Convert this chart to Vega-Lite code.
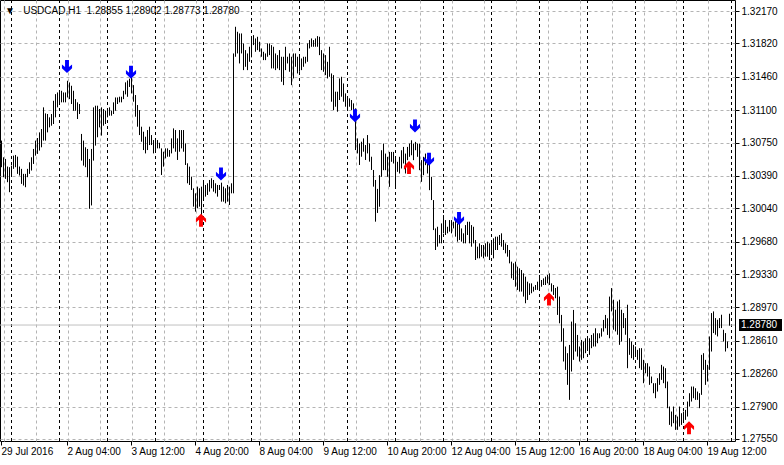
{
  "$schema": "https://vega.github.io/schema/vega-lite/v6.json",
  "width": 735,
  "height": 441,
  "autosize": {"type": "none"},
  "padding": {"left": 0, "top": 0, "right": 49, "bottom": 24},
  "background": "white",
  "config": {
    "view": {"stroke": "black", "strokeWidth": 1},
    "axis": {"labelFont": "Liberation Sans", "labelFontSize": 10, "labelColor": "black"}
  },
  "title": {
    "text": "▼\u00a0\u00a0\u00a0USDCAD,H1\u00a0\u00a01.28855 1.28902 1.28773 1.28780",
    "anchor": "start",
    "frame": "group",
    "orient": "top",
    "offset": -16,
    "font": "Liberation Sans",
    "fontSize": 10,
    "fontWeight": "normal",
    "color": "black",
    "dx": 5
  },
  "datasets": {
    "days": [{"v":5},{"v":29},{"v":53},{"v":77},{"v":101},{"v":125},{"v":149},{"v":173},{"v":197},{"v":221},{"v":245},{"v":269},{"v":293},{"v":317},{"v":341},{"v":365}],
    "bid": [{"price": 1.2878, "label": "1.28780"}],
    "fractals": [
      {"i":33,"p":1.3157,"dir":"down"},{"i":65,"p":1.3151,"dir":"down"},{"i":110,"p":1.3041,"dir":"down"},
      {"i":177,"p":1.3104,"dir":"down"},{"i":207,"p":1.3093,"dir":"down"},{"i":214,"p":1.3057,"dir":"down"},
      {"i":229,"p":1.2993,"dir":"down"},{"i":100,"p":1.2991,"dir":"up"},{"i":204,"p":1.3048,"dir":"up"},
      {"i":274,"p":1.2906,"dir":"up"},{"i":344,"p":1.2767,"dir":"up"}
    ],
    "bars": [
{"i":0,"h":1.30771,"l":1.30484},{"i":1,"h":1.30591,"l":1.30376},{"i":2,"h":1.30573,"l":1.30358},{"i":3,"h":1.30491,"l":1.30322},{"i":4,"h":1.30484,"l":1.30214},
{"i":5,"h":1.30501,"l":1.30394},{"i":6,"h":1.30609,"l":1.30466},{"i":7,"h":1.30616,"l":1.30484},{"i":8,"h":1.30598,"l":1.30412},{"i":9,"h":1.30491,"l":1.30394},
{"i":10,"h":1.30466,"l":1.30304},{"i":11,"h":1.30412,"l":1.30286},{"i":12,"h":1.30412,"l":1.30268},{"i":13,"h":1.30466,"l":1.30376},{"i":14,"h":1.30537,"l":1.30412},
{"i":15,"h":1.30591,"l":1.30448},{"i":16,"h":1.30681,"l":1.30519},{"i":17,"h":1.30771,"l":1.30609},{"i":18,"h":1.30799,"l":1.30627},{"i":19,"h":1.30860,"l":1.30663},
{"i":20,"h":1.30896,"l":1.30699},{"i":21,"h":1.31130,"l":1.30771},{"i":22,"h":1.31065,"l":1.30771},{"i":23,"h":1.31058,"l":1.30860},{"i":24,"h":1.31022,"l":1.30914},
{"i":25,"h":1.31058,"l":1.30932},{"i":26,"h":1.31201,"l":1.30950},{"i":27,"h":1.31273,"l":1.31022},{"i":28,"h":1.31291,"l":1.31130},{"i":29,"h":1.31291,"l":1.31166},
{"i":30,"h":1.31309,"l":1.31184},{"i":31,"h":1.31291,"l":1.31184},{"i":32,"h":1.31291,"l":1.31184},{"i":33,"h":1.31417,"l":1.31237},{"i":34,"h":1.31399,"l":1.31219},
{"i":35,"h":1.31363,"l":1.31166},{"i":36,"h":1.31309,"l":1.31094},{"i":37,"h":1.31219,"l":1.31094},{"i":38,"h":1.31184,"l":1.31004},{"i":39,"h":1.31166,"l":1.31058},
{"i":40,"h":1.30843,"l":1.30555},{"i":41,"h":1.30771,"l":1.30501},{"i":42,"h":1.30699,"l":1.30484},{"i":43,"h":1.30681,"l":1.30376},{"i":44,"h":1.30573,"l":1.30035},
{"i":45,"h":1.30681,"l":1.30071},{"i":46,"h":1.31130,"l":1.30555},{"i":47,"h":1.31148,"l":1.30717},{"i":48,"h":1.31148,"l":1.30807},{"i":49,"h":1.31112,"l":1.30914},
{"i":50,"h":1.31130,"l":1.30825},{"i":51,"h":1.31112,"l":1.30932},{"i":52,"h":1.31094,"l":1.30950},{"i":53,"h":1.31094,"l":1.31022},{"i":54,"h":1.31130,"l":1.31040},
{"i":55,"h":1.31094,"l":1.31040},{"i":56,"h":1.31184,"l":1.31058},{"i":57,"h":1.31237,"l":1.31094},{"i":58,"h":1.31237,"l":1.31166},{"i":59,"h":1.31245,"l":1.31184},
{"i":60,"h":1.31245,"l":1.31184},{"i":61,"h":1.31309,"l":1.31219},{"i":62,"h":1.31400,"l":1.31270},{"i":63,"h":1.31420,"l":1.31244},{"i":64,"h":1.31440,"l":1.31350},
{"i":65,"h":1.31460,"l":1.31280},{"i":66,"h":1.31370,"l":1.31191},{"i":67,"h":1.31263,"l":1.31029},{"i":68,"h":1.31155,"l":1.30921},{"i":69,"h":1.31100,"l":1.30831},
{"i":70,"h":1.30921,"l":1.30759},{"i":71,"h":1.30867,"l":1.30669},{"i":72,"h":1.30813,"l":1.30633},{"i":73,"h":1.30885,"l":1.30669},{"i":74,"h":1.30921,"l":1.30723},
{"i":75,"h":1.30831,"l":1.30723},{"i":76,"h":1.30777,"l":1.30633},{"i":77,"h":1.30777,"l":1.30669},{"i":78,"h":1.30777,"l":1.30687},{"i":79,"h":1.30748,"l":1.30687},
{"i":80,"h":1.30687,"l":1.30400},{"i":81,"h":1.30651,"l":1.30490},{"i":82,"h":1.30687,"l":1.30579},{"i":83,"h":1.30687,"l":1.30597},{"i":84,"h":1.30669,"l":1.30597},
{"i":85,"h":1.30795,"l":1.30633},{"i":86,"h":1.30903,"l":1.30687},{"i":87,"h":1.30885,"l":1.30651},{"i":88,"h":1.30795,"l":1.30562},{"i":89,"h":1.30885,"l":1.30651},
{"i":90,"h":1.30885,"l":1.30687},{"i":91,"h":1.30885,"l":1.30651},{"i":92,"h":1.30741,"l":1.30508},{"i":93,"h":1.30526,"l":1.30310},{"i":94,"h":1.30490,"l":1.30292},
{"i":95,"h":1.30382,"l":1.30238},{"i":96,"h":1.30256,"l":1.30058},{"i":97,"h":1.30202,"l":1.30004},{"i":98,"h":1.30274,"l":1.30040},{"i":99,"h":1.30256,"l":1.30058},
{"i":100,"h":1.30274,"l":1.29968},{"i":101,"h":1.30328,"l":1.30130},{"i":102,"h":1.30292,"l":1.30166},{"i":103,"h":1.30310,"l":1.30184},{"i":104,"h":1.30346,"l":1.30220},
{"i":105,"h":1.30364,"l":1.30256},{"i":106,"h":1.30346,"l":1.30220},{"i":107,"h":1.30310,"l":1.30202},{"i":108,"h":1.30292,"l":1.30166},{"i":109,"h":1.30292,"l":1.30238},
{"i":110,"h":1.30317,"l":1.30112},{"i":111,"h":1.30274,"l":1.30112},{"i":112,"h":1.30256,"l":1.30094},{"i":113,"h":1.30292,"l":1.30112},{"i":114,"h":1.30274,"l":1.30076},
{"i":115,"h":1.30310,"l":1.30202},{"i":116,"h":1.31712,"l":1.30202},{"i":117,"h":1.32000,"l":1.31676},{"i":118,"h":1.31946,"l":1.31712},{"i":119,"h":1.31928,"l":1.31604},
{"i":120,"h":1.31928,"l":1.31712},{"i":121,"h":1.31820,"l":1.31532},{"i":122,"h":1.31748,"l":1.31568},{"i":123,"h":1.31712,"l":1.31532},{"i":124,"h":1.31784,"l":1.31622},
{"i":125,"h":1.31880,"l":1.31670},{"i":126,"h":1.31910,"l":1.31802},{"i":127,"h":1.31874,"l":1.31730},{"i":128,"h":1.31892,"l":1.31748},{"i":129,"h":1.31838,"l":1.31730},
{"i":130,"h":1.31766,"l":1.31676},{"i":131,"h":1.31730,"l":1.31640},{"i":132,"h":1.31712,"l":1.31640},{"i":133,"h":1.31820,"l":1.31676},{"i":134,"h":1.31820,"l":1.31694},
{"i":135,"h":1.31802,"l":1.31550},{"i":136,"h":1.31784,"l":1.31550},{"i":137,"h":1.31712,"l":1.31532},{"i":138,"h":1.31694,"l":1.31550},{"i":139,"h":1.31748,"l":1.31532},
{"i":140,"h":1.31676,"l":1.31406},{"i":141,"h":1.31676,"l":1.31370},{"i":142,"h":1.31784,"l":1.31532},{"i":143,"h":1.31676,"l":1.31604},{"i":144,"h":1.31712,"l":1.31514},
{"i":145,"h":1.31676,"l":1.31370},{"i":146,"h":1.31712,"l":1.31442},{"i":147,"h":1.31712,"l":1.31568},{"i":148,"h":1.31676,"l":1.31496},{"i":149,"h":1.31694,"l":1.31514},
{"i":150,"h":1.31658,"l":1.31532},{"i":151,"h":1.31676,"l":1.31568},{"i":152,"h":1.31676,"l":1.31604},{"i":153,"h":1.31820,"l":1.31622},{"i":154,"h":1.31856,"l":1.31766},
{"i":155,"h":1.31874,"l":1.31784},{"i":156,"h":1.31856,"l":1.31784},{"i":157,"h":1.31874,"l":1.31784},{"i":158,"h":1.31899,"l":1.31784},{"i":159,"h":1.31892,"l":1.31694},
{"i":160,"h":1.31748,"l":1.31532},{"i":161,"h":1.31712,"l":1.31514},{"i":162,"h":1.31694,"l":1.31478},{"i":163,"h":1.31622,"l":1.31442},{"i":164,"h":1.31784,"l":1.31460},
{"i":165,"h":1.31496,"l":1.31191},{"i":166,"h":1.31478,"l":1.31100},{"i":167,"h":1.31299,"l":1.31137},{"i":168,"h":1.31299,"l":1.31083},{"i":169,"h":1.31442,"l":1.31209},
{"i":170,"h":1.31460,"l":1.31245},{"i":171,"h":1.31388,"l":1.31191},{"i":172,"h":1.31281,"l":1.31137},{"i":173,"h":1.31245,"l":1.31119},{"i":174,"h":1.31227,"l":1.31137},
{"i":175,"h":1.31209,"l":1.31100},{"i":176,"h":1.31173,"l":1.31083},{"i":177,"h":1.31119,"l":1.30669},{"i":178,"h":1.30795,"l":1.30633},{"i":179,"h":1.30741,"l":1.30508},
{"i":180,"h":1.30759,"l":1.30597},{"i":181,"h":1.30795,"l":1.30651},{"i":182,"h":1.30723,"l":1.30562},{"i":183,"h":1.30831,"l":1.30633},{"i":184,"h":1.30741,"l":1.30544},
{"i":185,"h":1.30597,"l":1.30454},{"i":186,"h":1.30454,"l":1.30274},{"i":187,"h":1.30346,"l":1.29896},{"i":188,"h":1.30250,"l":1.29990},{"i":189,"h":1.30398,"l":1.30057},
{"i":190,"h":1.30667,"l":1.30380},{"i":191,"h":1.30739,"l":1.30452},{"i":192,"h":1.30631,"l":1.30452},{"i":193,"h":1.30596,"l":1.30380},{"i":194,"h":1.30649,"l":1.30272},
{"i":195,"h":1.30649,"l":1.30542},{"i":196,"h":1.30649,"l":1.30524},{"i":197,"h":1.30578,"l":1.30272},{"i":198,"h":1.30542,"l":1.30434},{"i":199,"h":1.30596,"l":1.30416},
{"i":200,"h":1.30667,"l":1.30470},{"i":201,"h":1.30703,"l":1.30524},{"i":202,"h":1.30631,"l":1.30416},{"i":203,"h":1.30703,"l":1.30560},{"i":204,"h":1.30739,"l":1.30596},
{"i":205,"h":1.30775,"l":1.30613},{"i":206,"h":1.30739,"l":1.30560},{"i":207,"h":1.30757,"l":1.30667},{"i":208,"h":1.30739,"l":1.30596},{"i":209,"h":1.30739,"l":1.30452},
{"i":210,"h":1.30560,"l":1.30326},{"i":211,"h":1.30596,"l":1.30398},{"i":212,"h":1.30631,"l":1.30506},{"i":213,"h":1.30596,"l":1.30416},{"i":214,"h":1.30524,"l":1.30236},
{"i":215,"h":1.30380,"l":1.30129},{"i":216,"h":1.30129,"l":1.29805},{"i":217,"h":1.29823,"l":1.29590},{"i":218,"h":1.29841,"l":1.29626},{"i":219,"h":1.29752,"l":1.29662},
{"i":220,"h":1.29877,"l":1.29662},{"i":221,"h":1.29967,"l":1.29770},{"i":222,"h":1.29913,"l":1.29752},{"i":223,"h":1.29841,"l":1.29770},{"i":224,"h":1.29913,"l":1.29788},
{"i":225,"h":1.29913,"l":1.29770},{"i":226,"h":1.29895,"l":1.29823},{"i":227,"h":1.29931,"l":1.29734},{"i":228,"h":1.29877,"l":1.29680},{"i":229,"h":1.29877,"l":1.29698},
{"i":230,"h":1.29823,"l":1.29680},{"i":231,"h":1.29770,"l":1.29662},{"i":232,"h":1.29859,"l":1.29662},{"i":233,"h":1.29895,"l":1.29752},{"i":234,"h":1.29895,"l":1.29662},
{"i":235,"h":1.29859,"l":1.29626},{"i":236,"h":1.29841,"l":1.29662},{"i":237,"h":1.29698,"l":1.29482},{"i":238,"h":1.29626,"l":1.29500},{"i":239,"h":1.29662,"l":1.29500},
{"i":240,"h":1.29644,"l":1.29518},{"i":241,"h":1.29644,"l":1.29500},{"i":242,"h":1.29662,"l":1.29518},{"i":243,"h":1.29680,"l":1.29518},{"i":244,"h":1.29662,"l":1.29482},
{"i":245,"h":1.29680,"l":1.29554},{"i":246,"h":1.29716,"l":1.29500},{"i":247,"h":1.29734,"l":1.29590},{"i":248,"h":1.29734,"l":1.29590},{"i":249,"h":1.29752,"l":1.29644},
{"i":250,"h":1.29770,"l":1.29626},{"i":251,"h":1.29698,"l":1.29590},{"i":252,"h":1.29662,"l":1.29554},{"i":253,"h":1.29644,"l":1.29518},{"i":254,"h":1.29590,"l":1.29446},
{"i":255,"h":1.29464,"l":1.29284},{"i":256,"h":1.29446,"l":1.29266},{"i":257,"h":1.29464,"l":1.29194},{"i":258,"h":1.29410,"l":1.29159},{"i":259,"h":1.29392,"l":1.29141},
{"i":260,"h":1.29374,"l":1.29141},{"i":261,"h":1.29338,"l":1.29087},{"i":262,"h":1.29302,"l":1.29015},{"i":263,"h":1.29248,"l":1.29051},{"i":264,"h":1.29230,"l":1.29105},
{"i":265,"h":1.29230,"l":1.29123},{"i":266,"h":1.29194,"l":1.29141},{"i":267,"h":1.29212,"l":1.29159},{"i":268,"h":1.29248,"l":1.29159},{"i":269,"h":1.29320,"l":1.29180},
{"i":270,"h":1.29266,"l":1.29194},{"i":271,"h":1.29284,"l":1.29212},{"i":272,"h":1.29302,"l":1.29212},{"i":273,"h":1.29320,"l":1.29230},{"i":274,"h":1.29338,"l":1.29212},
{"i":275,"h":1.29230,"l":1.29141},{"i":276,"h":1.29212,"l":1.29105},{"i":277,"h":1.29180,"l":1.29069},{"i":278,"h":1.29194,"l":1.28889},{"i":279,"h":1.29087,"l":1.28799},
{"i":280,"h":1.28889,"l":1.28601},{"i":281,"h":1.28745,"l":1.28386},{"i":282,"h":1.28548,"l":1.28296},{"i":283,"h":1.28476,"l":1.28134},{"i":284,"h":1.28565,"l":1.27972},
{"i":285,"h":1.28817,"l":1.28278},{"i":286,"h":1.28943,"l":1.28404},{"i":287,"h":1.28799,"l":1.28494},{"i":288,"h":1.28673,"l":1.28440},{"i":289,"h":1.28548,"l":1.28386},
{"i":290,"h":1.28619,"l":1.28404},{"i":291,"h":1.28601,"l":1.28422},{"i":292,"h":1.28637,"l":1.28476},{"i":293,"h":1.28655,"l":1.28530},{"i":294,"h":1.28637,"l":1.28458},
{"i":295,"h":1.28673,"l":1.28530},{"i":296,"h":1.28691,"l":1.28548},{"i":297,"h":1.28745,"l":1.28548},{"i":298,"h":1.28691,"l":1.28583},{"i":299,"h":1.28691,"l":1.28637},
{"i":300,"h":1.28745,"l":1.28655},{"i":301,"h":1.28835,"l":1.28709},{"i":302,"h":1.28889,"l":1.28745},{"i":303,"h":1.28853,"l":1.28673},{"i":304,"h":1.29087,"l":1.28637},
{"i":305,"h":1.29179,"l":1.28927},{"i":306,"h":1.29053,"l":1.28729},{"i":307,"h":1.28945,"l":1.28711},{"i":308,"h":1.29035,"l":1.28675},{"i":309,"h":1.29053,"l":1.28566},
{"i":310,"h":1.28945,"l":1.28602},{"i":311,"h":1.28909,"l":1.28747},{"i":312,"h":1.28855,"l":1.28675},{"i":313,"h":1.28999,"l":1.28314},{"i":314,"h":1.28638,"l":1.28458},
{"i":315,"h":1.28602,"l":1.28422},{"i":316,"h":1.28566,"l":1.28404},{"i":317,"h":1.28548,"l":1.28458},{"i":318,"h":1.28512,"l":1.28404},{"i":319,"h":1.28530,"l":1.28314},
{"i":320,"h":1.28530,"l":1.28296},{"i":321,"h":1.28404,"l":1.28152},{"i":322,"h":1.28368,"l":1.28260},{"i":323,"h":1.28368,"l":1.28224},{"i":324,"h":1.28332,"l":1.28134},
{"i":325,"h":1.28224,"l":1.28152},{"i":326,"h":1.28152,"l":1.28044},{"i":327,"h":1.28152,"l":1.27990},{"i":328,"h":1.28206,"l":1.28062},{"i":329,"h":1.28260,"l":1.28134},
{"i":330,"h":1.28350,"l":1.28188},{"i":331,"h":1.28332,"l":1.28152},{"i":332,"h":1.28314,"l":1.28098},{"i":333,"h":1.28170,"l":1.27882},{"i":334,"h":1.27900,"l":1.27702},
{"i":335,"h":1.27846,"l":1.27684},{"i":336,"h":1.27900,"l":1.27720},{"i":337,"h":1.27810,"l":1.27648},{"i":338,"h":1.27792,"l":1.27648},{"i":339,"h":1.27900,"l":1.27684},
{"i":340,"h":1.27828,"l":1.27702},{"i":341,"h":1.27846,"l":1.27738},{"i":342,"h":1.27864,"l":1.27756},{"i":343,"h":1.27954,"l":1.27792},{"i":344,"h":1.28044,"l":1.27900},
{"i":345,"h":1.28116,"l":1.27954},{"i":346,"h":1.28116,"l":1.27990},{"i":347,"h":1.28098,"l":1.27972},{"i":348,"h":1.28062,"l":1.27972},{"i":349,"h":1.28044,"l":1.27882},
{"i":350,"h":1.28458,"l":1.28026},{"i":351,"h":1.28476,"l":1.28296},{"i":352,"h":1.28404,"l":1.28134},{"i":353,"h":1.28350,"l":1.28170},{"i":354,"h":1.28657,"l":1.28296},
{"i":355,"h":1.28909,"l":1.28494},{"i":356,"h":1.28927,"l":1.28693},{"i":357,"h":1.28855,"l":1.28675},{"i":358,"h":1.28837,"l":1.28657},{"i":359,"h":1.28855,"l":1.28747},
{"i":360,"h":1.28891,"l":1.28747},{"i":361,"h":1.28729,"l":1.28602},{"i":362,"h":1.28693,"l":1.28494},{"i":363,"h":1.28602,"l":1.28530},{"i":364,"h":1.28902,"l":1.28773}
    ]
  },
  "layer": [
    {
      "data": {"name": "days"},
      "mark": {"type": "rule", "color": "black", "strokeDash": [3, 3], "xOffset": 0.5},
      "encoding": {
        "x": {
          "field": "v", "type": "quantitative",
          "scale": {"domain": [-0.5, 367], "nice": false, "zero": false},
          "axis": {
            "orient": "bottom", "title": null,
            "values": [1.5,17.5,33.5,49.5,65.5,81.5,97.5,113.5,129.5,145.5,161.5,177.5,193.5,209.5,225.5,241.5,257.5,273.5,289.5,305.5,321.5,337.5,353.5],
            "grid": true, "gridColor": "#b4b4b4", "gridDash": [3, 3],
            "labels": false, "ticks": false, "domain": false
          }
        }
      }
    },
    {
      "data": {"name": "bid"},
      "mark": {"type": "rule", "color": "#c0c0c0"},
      "encoding": {
        "y": {
          "field": "price", "type": "quantitative",
          "scale": {"domain": [1.27528, 1.32289], "nice": false, "zero": false},
          "axis": {
            "orient": "right", "title": null,
            "values": [1.2755, 1.279, 1.2826, 1.2861, 1.2897, 1.2933, 1.2968, 1.3004, 1.3039, 1.3075, 1.311, 1.3146, 1.3182, 1.3217],
            "format": ".5f",
            "grid": true, "gridColor": "#b4b4b4", "gridDash": [3, 3],
            "domain": false, "tickSize": 4, "tickColor": "black", "labelPadding": 2,
            "labelFlush": false, "labelOverlap": false, "labelBound": false
          }
        }
      }
    },
    {
      "data": {"name": "bars"},
      "mark": {"type": "rule", "color": "black", "strokeWidth": 1, "xOffset": 0.5},
      "encoding": {
        "x": {
          "field": "i", "type": "quantitative",
          "scale": {"domain": [-0.5, 367], "nice": false, "zero": false},
          "axis": {
            "orient": "bottom", "title": null,
            "values": [0, 33, 65, 97, 129, 161, 193, 225, 257, 289, 321, 353],
            "labelExpr": "datum.value < 1 ? '29 Jul 2016' : ['', '2 Aug 04:00', '3 Aug 12:00', '4 Aug 20:00', '8 Aug 04:00', '9 Aug 12:00', '10 Aug 20:00', '12 Aug 04:00', '15 Aug 12:00', '16 Aug 20:00', '18 Aug 04:00', '19 Aug 12:00'][round((datum.value - 1) / 32)]",
            "grid": false, "domain": false, "ticks": true, "tickSize": 4, "tickColor": "black",
            "labelAlign": "left", "labelBaseline": "top", "labelPadding": 1, "labelDx": 1,
            "labelFlush": false, "labelOverlap": false, "labelBound": false
          }
        },
        "y": {
          "field": "h", "type": "quantitative",
          "scale": {"domain": [1.27528, 1.32289], "nice": false, "zero": false},
          "axis": null
        },
        "y2": {"field": "l"}
      }
    },
    {
      "data": {"name": "fractals"},
      "mark": {"type": "point", "filled": true, "opacity": 1, "size": 169, "strokeWidth": 0},
      "encoding": {
        "x": {"field": "i", "type": "quantitative", "scale": {"domain": [-0.5, 367], "nice": false, "zero": false}, "axis": null},
        "y": {"field": "p", "type": "quantitative", "scale": {"domain": [1.27528, 1.32289], "nice": false, "zero": false}, "axis": null},
        "shape": {
          "field": "dir", "type": "nominal", "legend": null,
          "scale": {"domain": ["down", "up"], "range": [
            "M-0.3,-1L0.3,-1L0.3,0.08L0.78,-0.34L0.78,0.24L0,1L-0.78,0.24L-0.78,-0.34L-0.3,0.08Z",
            "M-0.3,1L0.3,1L0.3,-0.08L0.78,0.34L0.78,-0.24L0,-1L-0.78,-0.24L-0.78,0.34L-0.3,-0.08Z"
          ]}
        },
        "color": {
          "field": "dir", "type": "nominal", "legend": null,
          "scale": {"domain": ["down", "up"], "range": ["#0000ff", "#ff0000"]}
        }
      }
    },
    {
      "data": {"name": "bid"},
      "mark": {"type": "point", "shape": "M-1,-0.279L1,-0.279L1,0.279L-1,0.279Z", "size": 1849, "filled": true, "color": "black", "opacity": 1, "strokeWidth": 0},
      "encoding": {
        "x": {"datum": 379.75, "type": "quantitative", "scale": {"domain": [-0.5, 367], "nice": false, "zero": false}, "axis": null},
        "y": {"field": "price", "type": "quantitative", "scale": {"domain": [1.27528, 1.32289], "nice": false, "zero": false}, "axis": null}
      }
    },
    {
      "data": {"name": "bid"},
      "mark": {"type": "text", "color": "white", "align": "left", "baseline": "middle", "font": "Liberation Sans", "fontSize": 10},
      "encoding": {
        "x": {"datum": 370, "type": "quantitative", "scale": {"domain": [-0.5, 367], "nice": false, "zero": false}, "axis": null},
        "y": {"field": "price", "type": "quantitative", "scale": {"domain": [1.27528, 1.32289], "nice": false, "zero": false}, "axis": null},
        "text": {"field": "label"}
      }
    }
  ],
  "resolve": {"axis": {"x": "independent", "y": "independent"}}
}
